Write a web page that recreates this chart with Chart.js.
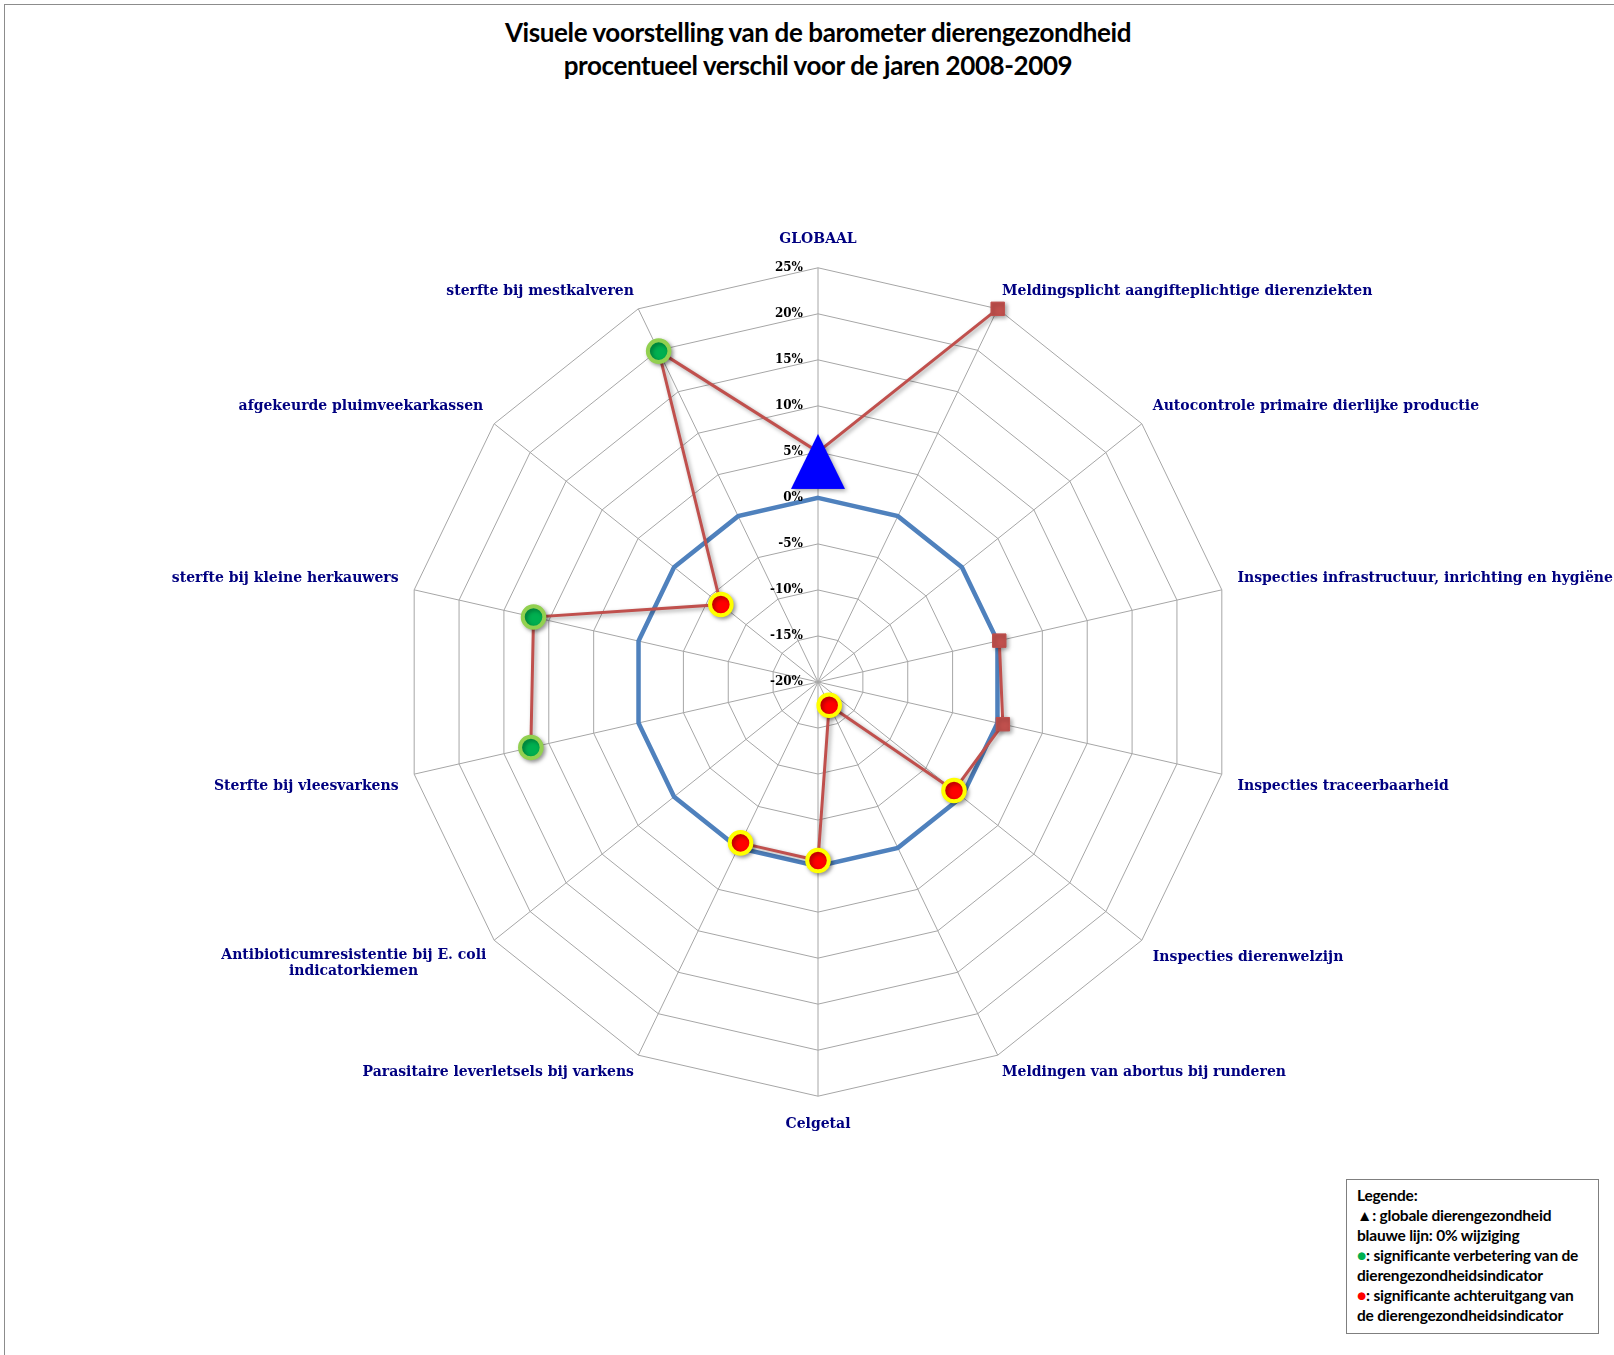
<!DOCTYPE html>
<html>
<head>
<meta charset="utf-8">
<script src="https://cdn.jsdelivr.net/npm/chart.js@4"></script>
<style>
    body { margin: 0; width: 1614px; height: 1355px; overflow: hidden; position: relative; background: #fff; }
    #frame { position: absolute; left: 4px; top: 4px; width: 1700px; height: 1400px; border: 1px solid #8c8c8c; }
    #title { position: absolute; left: 218px; top: 16px; width: 1200px; text-align: center;
        font: bold 26px Lato, sans-serif; line-height: 33px; color: #000; letter-spacing: -0.4px; }
    #wrap { position: absolute; left: -382px; top: 231px; width: 2400px; height: 903px; }
    #legend { position: absolute; left: 1346px; top: 1179px; width: 241px; height: 148px; padding: 5px 0 0 10px;
        border: 1px solid #7f7f7f; font: bold 15.5px Lato, sans-serif; line-height: 20px; color: #000;
        letter-spacing: -0.2px; white-space: nowrap; }
    .dot-green { color: #00B050; }
    .dot-red { color: #FF0000; }
</style>
</head>
<body>
<div id="frame"></div>
<div id="title">Visuele voorstelling van de barometer dierengezondheid<br>procentueel verschil voor de jaren 2008-2009</div>
<div id="wrap"><canvas id="chart"></canvas></div>
<div id="legend">
    Legende:<br>
    ▲: globale dierengezondheid<br>
    blauwe lijn: 0% wijziging<br>
    <span class="dot-green">●</span>: significante verbetering van de<br>
    dierengezondheidsindicator<br>
    <span class="dot-red">●</span>: significante achteruitgang van<br>
    de dierengezondheidsindicator
</div>
<script>
const categories = [
    'GLOBAAL',
    'Meldingsplicht aangifteplichtige dierenziekten',
    'Autocontrole primaire dierlijke productie',
    'Inspecties infrastructuur, inrichting en hygiëne',
    'Inspecties traceerbaarheid',
    'Inspecties dierenwelzijn',
    'Meldingen van abortus bij runderen',
    'Celgetal',
    'Parasitaire leverletsels bij varkens',
    ['Antibioticumresistentie bij E. coli', 'indicatorkiemen'],
    'Sterfte bij vleesvarkens',
    'sterfte bij kleine herkauwers',
    'afgekeurde pluimveekarkassen',
    'sterfte bij mestkalveren'
];

// procentueel verschil 2008-2009 (null = geen waarde)
const verschil = [5, 25, null, 0.2, 0.6, -1.1, -17.2, -0.6, -0.6, null, 12, 11.7, -6.5, 19.9];

// blauwe lijn: 0% wijziging
const nulLijn = [0, 0, 0, 0, 0, 0, 0, 0, 0, 0, 0, 0, 0, 0];

// 'globaal', 'geen', 'verbetering', 'achteruitgang'
const significantie = ['globaal', 'geen', null, 'geen', 'geen', 'achteruitgang', 'achteruitgang',
    'achteruitgang', 'achteruitgang', null, 'verbetering', 'verbetering', 'achteruitgang', 'verbetering'];

const tickMin = -20;
const tickMax = 25;
const tickStep = 5;

const labelFont = { family: 'DejaVu Serif', size: 14, weight: 'bold' };
const labelFontCss = 'bold 14px "DejaVu Serif"';
// distance of each category label from the outer ring
const labelPadding = [20, 10, 14, 16, 16, 14, 10, 20, 10, 10, 16, 16, 14, 10];

// blue triangle marker, sits a bit below the data point like in Excel
function makeTriangle() {
    const c = document.createElement('canvas');
    c.width = 62;
    c.height = 80;
    const g = c.getContext('2d');
    g.fillStyle = '#0000FF';
    g.beginPath();
    g.moveTo(31, 40 - 18);
    g.lineTo(58, 40 + 37);
    g.lineTo(4, 40 + 37);
    g.closePath();
    g.fill();
    return c;
}
const triangle = makeTriangle();

const measureCtx = document.createElement('canvas').getContext('2d');
measureCtx.font = labelFontCss;

// centre the lines of a multi-line label (Chart.js aligns them to one side)
function centerLines(label) {
    if (!Array.isArray(label)) return label;
    const widths = label.map(l => measureCtx.measureText(l).width);
    const max = Math.max(...widths);
    const nb = measureCtx.measureText('\u00A0').width;
    return label.map((l, i) => l + '\u00A0'.repeat(Math.round((max - widths[i]) / 2 / nb)));
}

const styleFor = {
    globaal: { style: triangle, radius: 10, bg: '#0000FF', border: '#0000FF', bw: 0 },
    geen: { style: 'rect', radius: 9.5, bg: '#C0504D', border: '#C0504D', bw: 1 },
    verbetering: { style: 'circle', radius: 10.8, bg: '#00B050', border: '#92D050', bw: 4 },
    achteruitgang: { style: 'circle', radius: 10.8, bg: '#FF0000', border: '#FFFF00', bw: 4 }
};
const pick = (key, fallback) => significantie.map(s => s ? styleFor[s][key] : fallback);

const lineShadow = {
    id: 'lineShadow',
    beforeDatasetDraw(chart, args) {
        if (args.index !== 0) return;
        const ctx = chart.ctx;
        ctx.save();
        ctx.shadowColor = 'rgba(0, 0, 0, 0.35)';
        ctx.shadowBlur = 4;
        ctx.shadowOffsetX = 2;
        ctx.shadowOffsetY = 2;
    },
    afterDatasetDraw(chart, args) {
        if (args.index === 0) chart.ctx.restore();
    }
};

// tick labels right-aligned next to the vertical axis
const tickLabels = {
    id: 'tickLabels',
    afterDraw(chart) {
        const s = chart.scales.r;
        const ctx = chart.ctx;
        ctx.save();
        ctx.font = 'bold 12px "DejaVu Serif"';
        ctx.fillStyle = '#000';
        ctx.textAlign = 'right';
        ctx.textBaseline = 'middle';
        s.ticks.forEach(t => {
            const y = s.yCenter - s.getDistanceFromCenterForValue(t.value);
            ctx.fillText(t.value + '%', s.xCenter - 15, y);
        });
        ctx.restore();
    }
};

const ctx = document.getElementById('chart').getContext('2d');
const chart = new Chart(ctx, {
    type: 'radar',
    data: {
        labels: categories,
        datasets: [{
            label: 'procentueel verschil',
            data: verschil,
            borderColor: '#C0504D',
            borderWidth: 3,
            backgroundColor: 'transparent',
            fill: false,
            spanGaps: false,
            pointStyle: pick('style', 'circle'),
            pointRadius: pick('radius', 0),
            pointBackgroundColor: pick('bg', '#C0504D'),
            pointBorderColor: pick('border', '#C0504D'),
            pointBorderWidth: pick('bw', 0)
        }, {
            label: '0% wijziging',
            data: nulLijn,
            borderColor: '#4F81BD',
            borderWidth: 4.5,
            backgroundColor: 'transparent',
            fill: false,
            pointRadius: 0
        }]
    },
    options: {
        responsive: true,
        maintainAspectRatio: false,
        animation: false,
        layout: { padding: 0 },
        plugins: {
            legend: { display: false },
            tooltip: { enabled: false }
        },
        scales: {
            r: {
                min: tickMin,
                max: tickMax,
                ticks: { stepSize: tickStep, display: false },
                grid: { color: '#a6a6a6', lineWidth: 1, circular: false },
                angleLines: { color: '#a6a6a6', lineWidth: 1 },
                pointLabels: {
                    color: '#000080',
                    font: labelFont,
                    padding: (c) => labelPadding[c.index],
                    callback: (label) => centerLines(label)
                }
            }
        }
    },
    plugins: [lineShadow, tickLabels]
});
</script>
</body>
</html>
